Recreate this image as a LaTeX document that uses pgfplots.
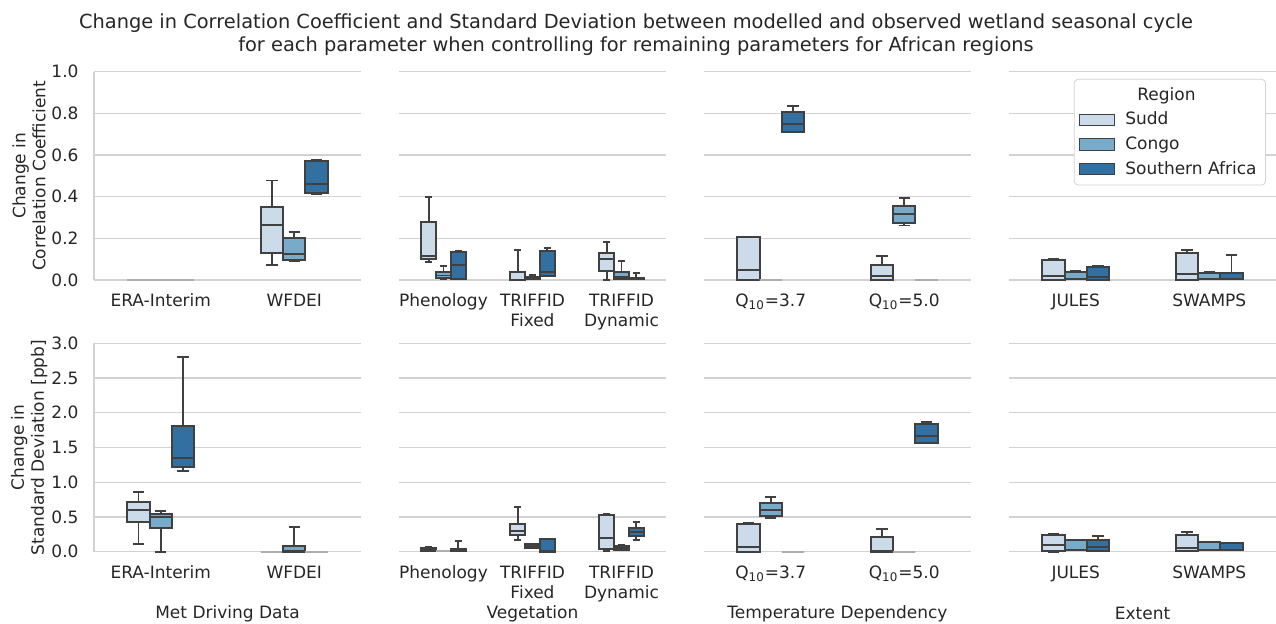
\documentclass[border=0pt]{standalone}
\usepackage{pgfplots}
\pgfplotsset{compat=1.18}
\usepgfplotslibrary{statistics}
\usepackage{fontspec}
\setmainfont{DejaVu Sans}

\definecolor{sudd}{HTML}{CBDBEA}
\definecolor{congo}{HTML}{78AAC9}
\definecolor{safr}{HTML}{3370A2}
\definecolor{edge}{HTML}{404040}
\definecolor{gridc}{HTML}{D2D2D2}
\definecolor{txt}{HTML}{262626}

\newcommand{\fs}{\fontsize{8.5}{10}\selectfont}

\pgfplotsset{
  panel/.style={
    scale only axis, width=133.5pt, height=104.2pt, anchor=south west,
    ymajorgrids, major grid style={gridc, line width=0.6pt},
    axis line style={draw=none}, major tick length=0pt,
    clip=false,
    tick label style={font=\fs, text=txt},
    /pgf/number format/assume math mode=true,
    yticklabel style={/pgf/number format/fixed, /pgf/number format/precision=1,
      /pgf/number format/fixed zerofill, xshift=-4.2pt},
    xticklabel style={align=center, yshift=-3.5pt},
    ylabel style={at={(axis description cs:-0.243,0.5)}, anchor=center, align=center, font=\fs, text=txt},
    xlabel style={at={(axis description cs:0.5,-0.297)}, anchor=center, font=\fs, text=txt},
    boxplot/draw direction=y,
    boxplot/box extend=0.1667, boxplot/whisker extend=0.0833,
    boxplot/every box/.append style={line width=0.9pt},
    boxplot/every whisker/.append style={line width=0.9pt},
    boxplot/every median/.append style={line width=0.9pt},
  },
  toprow/.style={panel, ymin=0, ymax=1, ytick={0,0.2,0.4,0.6,0.8,1}},
  botrow/.style={panel, ymin=0, ymax=3, ytick={0,0.5,1,1.5,2,2.5,3}},
  noylab/.style={yticklabels={}},
  sud/.style={fill=sudd, draw=edge, line width=0.9pt},
  con/.style={fill=congo, draw=edge, line width=0.9pt},
  saf/.style={fill=safr, draw=edge, line width=0.9pt},
  flat/.style={draw=black!32, fill=none, line width=0.9pt},
}

% #1 style, #2 position, #3 lower whisker, #4 lower quartile, #5 median, #6 upper quartile, #7 upper whisker
\newcommand{\bx}[7]{\addplot[#1, boxplot prepared={draw position=#2, lower whisker=#3, lower quartile=#4, median=#5, upper quartile=#6, upper whisker=#7}] coordinates {};}

\begin{document}
\begin{tikzpicture}
\path[use as bounding box] (0pt,0pt) rectangle (638pt,312pt);
\node[font=\fontsize{9.7}{11.5}\selectfont, text=txt, align=center] at (318pt,294.5pt)
  {Change in Correlation Coefficient and Standard Deviation between modelled and observed wetland seasonal cycle\\for each parameter when controlling for remaining parameters for African regions};

% ---------------- TOP ROW ----------------
\begin{axis}[toprow, at={(47pt,172pt)}, xmin=-0.5, xmax=1.5, xtick={0,1},
  xticklabels={ERA-Interim,WFDEI}, ylabel={Change in\\Correlation Coefficient}]
\draw[gridc, line width=0.6pt] (rel axis cs:0,0) -- (rel axis cs:0,1);
\bx{flat}{-0.1667}{0}{0}{0}{0}{0}
\bx{flat}{0}{0}{0}{0}{0}{0}
\bx{flat}{0.1667}{0}{0}{0}{0}{0}
\bx{sud}{0.8333}{0.070}{0.128}{0.262}{0.349}{0.477}
\bx{con}{1}{0.092}{0.094}{0.123}{0.200}{0.229}
\bx{saf}{1.1667}{0.414}{0.419}{0.462}{0.570}{0.578}
\end{axis}

\begin{axis}[toprow, noylab, at={(199.5pt,172pt)}, xmin=-0.5, xmax=2.5, xtick={0,1,2},
  xticklabels={Phenology,TRIFFID\\Fixed,TRIFFID\\Dynamic}]
\bx{sud}{-0.1667}{0.088}{0.099}{0.115}{0.278}{0.398}
\bx{con}{0}{0.005}{0.008}{0.022}{0.037}{0.069}
\bx{saf}{0.1667}{0.006}{0.006}{0.072}{0.133}{0.141}
\bx{sud}{0.8333}{0}{0}{0.002}{0.037}{0.144}
\bx{con}{1}{0.003}{0.003}{0.011}{0.014}{0.024}
\bx{saf}{1.1667}{0.020}{0.021}{0.038}{0.141}{0.154}
\bx{sud}{1.8333}{0}{0.042}{0.099}{0.128}{0.184}
\bx{con}{2}{0.003}{0.006}{0.016}{0.037}{0.093}
\bx{saf}{2.1667}{0.003}{0.003}{0.006}{0.008}{0.035}
\end{axis}

\begin{axis}[toprow, noylab, at={(352pt,172pt)}, xmin=-0.5, xmax=1.5, xtick={0,1},
  xticklabels={Q\textsubscript{10}=3.7,Q\textsubscript{10}=5.0}]
\bx{sud}{-0.1667}{0}{0}{0.048}{0.206}{0.206}
\bx{flat}{0}{0}{0}{0}{0}{0}
\bx{saf}{0.1667}{0.709}{0.712}{0.750}{0.805}{0.834}
\bx{sud}{0.8333}{0}{0}{0.019}{0.070}{0.117}
\bx{con}{1}{0.261}{0.274}{0.318}{0.354}{0.395}
\bx{flat}{1.1667}{0}{0}{0}{0}{0}
\end{axis}

\begin{axis}[toprow, noylab, at={(504.5pt,172pt)}, xmin=-0.5, xmax=1.5, xtick={0,1},
  xticklabels={JULES,SWAMPS},
  legend style={at={(0.9625,0.965)}, anchor=north east, draw=gridc, rounded corners=2pt,
    fill=white, font=\fs, text=txt, row sep=0.4pt, inner xsep=2.5pt, inner ysep=2pt},
  legend cell align=left,
  legend image code/.code={\draw[#1, sharp corners, line width=0.6pt] (0pt,-2.9pt) rectangle (17.5pt,2.9pt);}]
\addlegendimage{empty legend}\addlegendentry{\hspace*{9pt}Region}
\addlegendimage{fill=sudd, draw=edge}\addlegendentry{\hspace*{3pt}Sudd}
\addlegendimage{fill=congo, draw=edge}\addlegendentry{\hspace*{3pt}Congo}
\addlegendimage{fill=safr, draw=edge}\addlegendentry{\hspace*{3pt}Southern Africa}
\bx{sud}{-0.1667}{0}{0}{0.019}{0.094}{0.101}
\bx{con}{0}{0.003}{0.003}{0.006}{0.040}{0.043}
\bx{saf}{0.1667}{0}{0}{0.013}{0.062}{0.066}
\bx{sud}{0.8333}{0}{0}{0.027}{0.128}{0.142}
\bx{con}{1}{0.003}{0.003}{0.006}{0.034}{0.040}
\bx{saf}{1.1667}{0.003}{0.003}{0.006}{0.035}{0.120}
\end{axis}

% ---------------- BOTTOM ROW ----------------
\begin{axis}[botrow, at={(47pt,36.15pt)}, xmin=-0.5, xmax=1.5, xtick={0,1},
  xticklabels={ERA-Interim,WFDEI}, ylabel={Change in\\Standard Deviation [ppb]},
  xlabel={Met Driving Data}]
\draw[gridc, line width=0.6pt] (rel axis cs:0,0) -- (rel axis cs:0,1);
\bx{sud}{-0.1667}{0.110}{0.432}{0.605}{0.710}{0.854}
\bx{con}{0}{0}{0.346}{0.499}{0.547}{0.581}
\bx{saf}{0.1667}{1.166}{1.214}{1.354}{1.805}{2.808}
\bx{flat}{0.8333}{0}{0}{0}{0}{0}
\bx{con}{1}{0}{0}{0.010}{0.086}{0.360}
\bx{flat}{1.1667}{0}{0}{0}{0}{0}
\end{axis}

\begin{axis}[botrow, noylab, at={(199.5pt,36.15pt)}, xmin=-0.5, xmax=2.5, xtick={0,1,2},
  xticklabels={Phenology,TRIFFID\\Fixed,TRIFFID\\Dynamic}, xlabel={Vegetation}]
\bx{sud}{-0.1667}{0.010}{0.010}{0.020}{0.058}{0.067}
\bx{flat}{0}{0.005}{0.005}{0.005}{0.005}{0.005}
\bx{saf}{0.1667}{0.010}{0.010}{0.019}{0.034}{0.158}
\bx{sud}{0.8333}{0.173}{0.245}{0.298}{0.394}{0.648}
\bx{con}{1}{0.058}{0.058}{0.086}{0.110}{0.110}
\bx{saf}{1.1667}{0}{0}{0.010}{0.182}{0.182}
\bx{sud}{1.8333}{0.010}{0.034}{0.192}{0.528}{0.547}
\bx{con}{2}{0.020}{0.020}{0.053}{0.086}{0.096}
\bx{saf}{2.1667}{0.173}{0.230}{0.288}{0.336}{0.422}
\end{axis}

\begin{axis}[botrow, noylab, at={(352pt,36.15pt)}, xmin=-0.5, xmax=1.5, xtick={0,1},
  xticklabels={Q\textsubscript{10}=3.7,Q\textsubscript{10}=5.0}, xlabel={Temperature Dependency}]
\bx{sud}{-0.1667}{0}{0}{0.072}{0.398}{0.418}
\bx{con}{0}{0.485}{0.518}{0.605}{0.706}{0.792}
\bx{flat}{0.1667}{0}{0}{0}{0}{0}
\bx{sud}{0.8333}{0}{0}{0.010}{0.211}{0.331}
\bx{flat}{1}{0}{0}{0}{0}{0}
\bx{saf}{1.1667}{1.560}{1.565}{1.666}{1.834}{1.867}
\end{axis}

\begin{axis}[botrow, noylab, at={(504.5pt,36.15pt)}, xmin=-0.5, xmax=1.5, xtick={0,1},
  xticklabels={JULES,SWAMPS}, xlabel={Extent}]
\bx{sud}{-0.1667}{0}{0.010}{0.096}{0.240}{0.250}
\bx{con}{0}{0.020}{0.020}{0.024}{0.168}{0.170}
\bx{saf}{0.1667}{0.010}{0.010}{0.072}{0.173}{0.230}
\bx{sud}{0.8333}{0.010}{0.010}{0.053}{0.245}{0.288}
\bx{con}{1}{0.020}{0.020}{0.029}{0.134}{0.134}
\bx{saf}{1.1667}{0.020}{0.020}{0.025}{0.125}{0.125}
\end{axis}
\end{tikzpicture}
\end{document}
